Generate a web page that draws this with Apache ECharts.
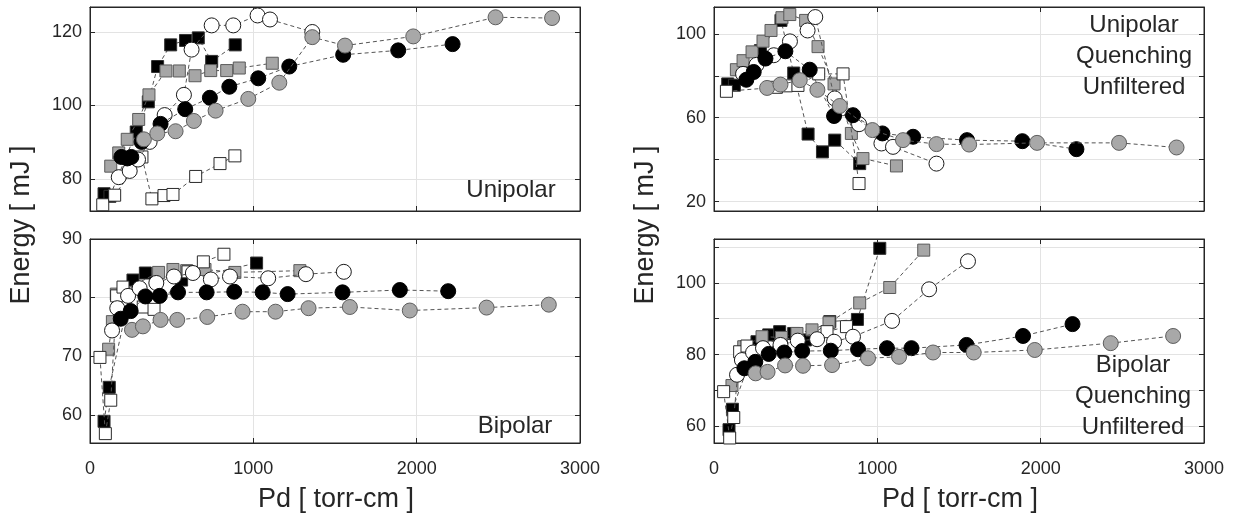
<!DOCTYPE html>
<html><head><meta charset="utf-8">
<script src="https://cdn.jsdelivr.net/npm/echarts@6/dist/echarts.min.js"></script>
<style>html,body{margin:0;padding:0;background:#fff}#c{width:1244px;height:520px}</style>
</head><body><div id="c"></div>
<script>
// ---------- DATA: [Pd (torr-cm), Energy (mJ)] ----------
// Panel A: Unipolar
const uniBlackSq = [[86,76.0],[122,75.3],[283,92.8],[357,101.0],[414,110.6],[494,116.5],[585,117.7],[663,118.4],[745,112.0],[889,116.5]];
const uniGraySq  = [[127,83.5],[176,87.1],[228,90.8],[298,96.2],[361,102.9],[465,109.4],[547,109.4],[643,108.1],[739,109.5],[837,109.5],[914,110.2],[1116,111.5]];
const uniWhiteSq = [[78,73.0],[151,75.6],[318,86.0],[379,74.6],[453,75.5],[508,75.8],[647,80.7],[796,84.2],[887,86.3]];
const uniWhiteCi = [[176,80.5],[243,82.2],[294,85.3],[365,90.1],[457,97.4],[575,102.9],[622,115.2],[745,121.8],[877,121.8],[1026,124.5],[1102,123.4],[1361,120.0]];
const uniBlackCi = [[192,86.0],[228,85.6],[253,86.0],[316,90.1],[432,95.0],[583,99.0],[734,102.1],[853,105.1],[1030,107.4],[1220,110.6],[1550,113.8],[1887,115.0],[2220,116.7]];
const uniGrayCi  = [[330,90.8],[412,92.4],[524,93.0],[636,95.8],[769,98.6],[969,101.8],[1159,106.2],[1361,118.6],[1561,116.3],[1979,118.8],[2483,124.0],[2829,123.8]];
// Panel B: Bipolar
const biBlackSq = [[86,58.9],[118,64.7],[263,83.0],[339,84.2],[561,83.0],[1020,85.9]];
const biGraySq  = [[114,71.2],[137,75.9],[161,80.6],[420,84.3],[508,84.8],[592,84.6],[704,84.8],[887,84.3],[1285,84.6]];
const biWhiteSq = [[61,69.8],[94,56.8],[127,62.5],[163,80.3],[202,81.8],[326,78.4],[392,78.0],[600,84.4],[694,86.1],[820,87.4]];
const biWhiteCi = [[135,74.4],[167,78.2],[233,80.3],[304,81.6],[406,82.5],[514,83.6],[630,84.2],[740,83.1],[857,83.6],[1091,83.3],[1322,84.0],[1554,84.4]];
const biBlackCi = [[188,76.4],[249,77.7],[339,80.2],[427,80.3],[539,80.9],[714,80.9],[883,81.0],[1057,80.9],[1210,80.6],[1546,80.9],[1897,81.3],[2193,81.1]];
const biGrayCi  = [[257,74.5],[324,75.1],[432,76.2],[534,76.2],[718,76.7],[934,77.6],[1136,77.6],[1338,78.2],[1591,78.4],[1958,77.8],[2428,78.3],[2809,78.8]];
// Panel C: Unipolar Quenching Unfiltered
const uqBlackSq = [[84,76.1],[125,75.5],[284,92.0],[410,106.4],[488,81.3],[576,52.2],[664,43.7],[739,49.3],[892,38.1]];
const uqGraySq  = [[137,82.9],[178,87.2],[233,91.4],[300,96.5],[349,101.6],[416,107.7],[464,109.2],[561,106.4],[637,93.9],[735,76.1],[841,52.5],[912,40.5],[1117,37.0]];
const uqWhiteSq = [[76,72.6],[382,74.5],[443,75.2],[514,75.4],[641,80.9],[790,80.9],[888,28.6]];
const uqWhiteCi = [[178,80.9],[260,85.2],[366,89.8],[465,96.4],[573,101.6],[620,108.0],[739,69.2],[888,56.9],[1025,47.7],[1096,46.1],[1362,38.1]];
const uqBlackCi = [[198,78.1],[243,81.8],[315,88.2],[437,91.7],[586,82.9],[735,60.8],[851,61.2],[1031,52.5],[1219,50.9],[1549,49.3],[1888,48.8],[2219,45.0]];
const uqGrayCi  = [[325,74.2],[407,75.8],[525,77.9],[633,73.3],[770,65.6],[970,54.1],[1157,49.3],[1362,47.4],[1562,47.2],[1978,48.0],[2480,48.0],[2832,45.8]];
// Panel D: Bipolar Quenching Unfiltered
const bqBlackSq = [[92,59.1],[113,64.8],[263,83.6],[335,85.5],[402,86.4],[488,85.9],[560,84.1],[709,89.2],[878,89.8],[1015,109.6]];
const bqGraySq  = [[110,71.4],[182,82.2],[294,85.0],[413,84.8],[508,85.9],[600,86.9],[704,88.9],[892,94.4],[1076,98.7],[1284,109.1]];
const bqWhiteSq = [[59,69.7],[96,56.8],[121,62.5],[157,80.8],[202,82.4],[692,86.4],[811,87.8]];
const bqWhiteCi = [[141,74.4],[171,78.5],[239,80.6],[300,81.8],[407,82.7],[513,83.9],[631,84.3],[735,83.6],[851,85.0],[1090,89.4],[1317,98.2],[1555,106.0]];
const bqBlackCi = [[186,76.2],[253,78.0],[335,80.2],[430,80.6],[540,81.0],[715,81.1],[882,81.5],[1059,81.8],[1209,81.8],[1546,82.7],[1892,85.2],[2195,88.5]];
const bqGrayCi  = [[255,74.8],[328,75.2],[435,77.0],[545,76.9],[723,77.1],[943,79.0],[1133,79.4],[1341,80.6],[1590,80.6],[1964,81.3],[2429,83.2],[2811,85.2]];

// ---------- AXES / TICKS ----------
const xRange = [0, 3000];
const xTickStep = 1000;
const yRanges = [[71.3,126.8],[55.2,90],[15.5,112.8],[55.4,112.2]];
const yTicks  = [[80,100,120],[60,70,80,90],[20,40,60,80,100],[60,70,80,90,100,110]];
const yLabels = [[80,100,120],[60,70,80,90],[20,60,100],[60,80,100]];
const xLabel = 'Pd [ torr-cm ]';
const yLabel = 'Energy [ mJ ]';
const panelTexts = [['Unipolar'],['Bipolar'],['Unipolar','Quenching','Unfiltered'],['Bipolar','Quenching','Unfiltered']];

const panels = [
  [uniBlackSq, uniGraySq, uniWhiteSq, uniWhiteCi, uniBlackCi, uniGrayCi],
  [biBlackSq, biGraySq, biWhiteSq, biWhiteCi, biBlackCi, biGrayCi],
  [uqBlackSq, uqGraySq, uqWhiteSq, uqWhiteCi, uqBlackCi, uqGrayCi],
  [bqBlackSq, bqGraySq, bqWhiteSq, bqWhiteCi, bqBlackCi, bqGrayCi]
];

// ---------- STYLE ----------
const FONT = 'Liberation Sans, Arial, sans-serif';
const AX = '#262626';
const GRIDC = '#e3e3e3';
const styles = [
  {symbol:'rect',   size:12, fill:'#000000', border:'#303030'},
  {symbol:'rect',   size:12, fill:'#a6a6a6', border:'#5a5a5a'},
  {symbol:'rect',   size:12, fill:'#ffffff', border:'#2a2a2a'},
  {symbol:'circle', size:15, fill:'#ffffff', border:'#1a1a1a'},
  {symbol:'circle', size:15, fill:'#000000', border:'#000000'},
  {symbol:'circle', size:15, fill:'#a8a8a8', border:'#5e5e5e'}
];
const gridPos = [
  {left:90, top:7, width:490, height:204},
  {left:90, top:239, width:490, height:204},
  {left:714, top:7, width:490, height:204},
  {left:714, top:239, width:490, height:204}
];

const grid = gridPos.map(g => Object.assign({show:true, borderColor:AX, borderWidth:1, backgroundColor:'#fff'}, g));
const xAxis = [], yAxis = [];
for (let i = 0; i < 4; i++) {
  const bottomPanel = (i === 1 || i === 3);
  xAxis.push({type:'value', gridIndex:i, position:'bottom', min:xRange[0], max:xRange[1], interval:xTickStep,
    axisLine:{show:true, onZero:false, lineStyle:{color:AX}},
    axisTick:{show:true, inside:true, length:5, lineStyle:{color:AX}},
    axisLabel:{show:bottomPanel, color:AX, fontFamily:FONT, fontSize:18, margin:17, formatter:v => String(v)},
    splitLine:{show:true, lineStyle:{color:GRIDC, width:1}}});
}
for (let i = 0; i < 4; i++) {
  xAxis.push({type:'value', gridIndex:i, position:'top', min:xRange[0], max:xRange[1], interval:xTickStep,
    axisLine:{show:true, onZero:false, lineStyle:{color:AX}},
    axisTick:{show:true, inside:true, length:5, lineStyle:{color:AX}},
    axisLabel:{show:false}, splitLine:{show:false}});
}
for (let i = 0; i < 4; i++) {
  const lbl = yLabels[i];
  yAxis.push({type:'value', gridIndex:i, position:'left', min:yRanges[i][0], max:yRanges[i][1],
    axisLine:{show:true, onZero:false, lineStyle:{color:AX}},
    axisTick:{show:true, inside:true, length:5, customValues:yTicks[i], lineStyle:{color:AX}},
    axisLabel:{show:true, customValues:yTicks[i], color:AX, fontFamily:FONT, fontSize:18, margin:8,
      formatter:v => (lbl.indexOf(Math.round(v)) >= 0 ? String(Math.round(v)) : '')},
    splitLine:{show:true, lineStyle:{color:GRIDC, width:1}}});
}
for (let i = 0; i < 4; i++) {
  yAxis.push({type:'value', gridIndex:i, position:'right', min:yRanges[i][0], max:yRanges[i][1],
    axisLine:{show:true, onZero:false, lineStyle:{color:AX}},
    axisTick:{show:true, inside:true, length:5, customValues:yTicks[i], lineStyle:{color:AX}},
    axisLabel:{show:false}, splitLine:{show:false}});
}

const series = [];
panels.forEach((sets, p) => {
  sets.forEach((data, k) => {
    const s = styles[k];
    series.push({type:'line', xAxisIndex:p, yAxisIndex:p, data:data, z:2+k,
      symbol:s.symbol, symbolSize:s.size, showSymbol:true,
      lineStyle:{color:'#555555', width:1, type:[4,3]},
      itemStyle:{color:s.fill, borderColor:s.border, borderWidth:1, opacity:1},
      emphasis:{disabled:true}, silent:true, animation:false});
  });
});

const graphic = [];
function txt(x, y, t, size, rot) {
  graphic.push({type:'text', x:x, y:y, rotation:rot||0, z:100,
    style:{text:t, fill:'#262626', font:size+'px '+FONT, textAlign:'center', textVerticalAlign:'middle'}});
}
txt(336, 500, xLabel, 27);
txt(960, 500, xLabel, 27);
txt(22, 225, yLabel, 27, Math.PI/2);
txt(646, 225, yLabel, 27, Math.PI/2);
txt(511, 190, panelTexts[0][0], 24);
txt(515, 426, panelTexts[1][0], 24);
panelTexts[2].forEach((t, j) => txt(1134, 25 + j*31, t, 24));
panelTexts[3].forEach((t, j) => txt(1133, 365 + j*31, t, 24));

const chart = echarts.init(document.getElementById('c'), null, {renderer:'canvas'});
chart.setOption({animation:false, backgroundColor:'#ffffff', grid, xAxis, yAxis, series, graphic});
</script>
</body></html>
